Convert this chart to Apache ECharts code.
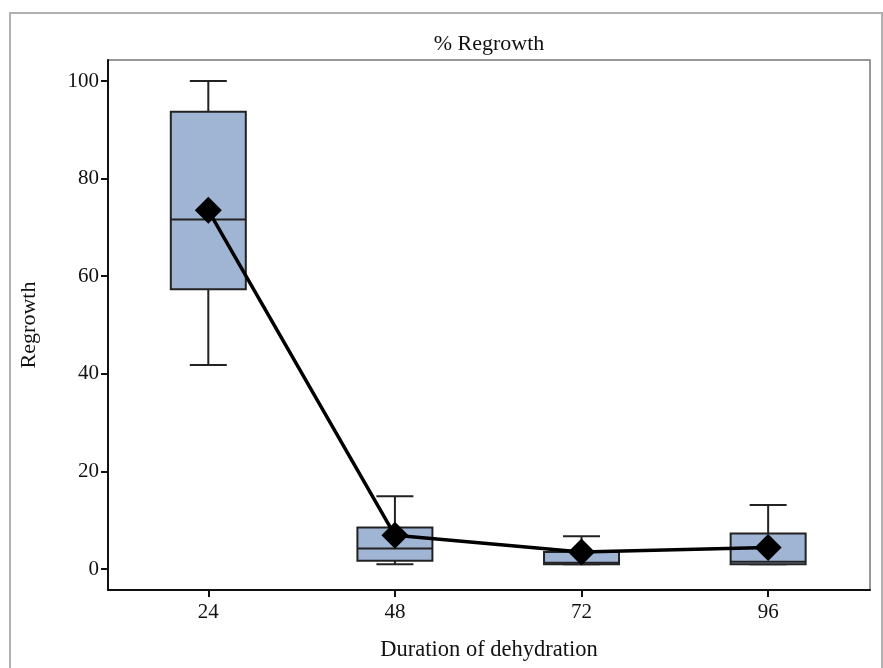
<!DOCTYPE html>
<html>
<head>
<meta charset="utf-8">
<script src="https://cdn.jsdelivr.net/npm/echarts@6/dist/echarts.min.js"></script>
<style>
  html, body { margin: 0; padding: 0; background: #fff; }
  #chart { width: 883px; height: 668px; }
</style>
</head>
<body>
<div id="chart"></div>
<script>
// durations (hours) on the x axis
const durations = [24, 48, 72, 96]
// box stats: min, q1, median, q3, max
const whiskerLow = [41.8, 1.0, 1.0, 1.0]
const q1 = [57.3, 1.7, 1.0, 1.0]
const median = [71.6, 4.2, 1.3, 1.5]
const q3 = [93.7, 8.5, 3.5, 7.3]
const whiskerHigh = [100, 14.9, 6.7, 13.1]
// mean values (diamonds joined by the line)
const means = [73.5, 6.9, 3.5, 4.4]
const yTicks = [0, 20, 40, 60, 80, 100]

const boxData = durations.map((d, i) => [d, whiskerLow[i], q1[i], median[i], q3[i], whiskerHigh[i]])
const meanData = durations.map((d, i) => [d, means[i]])

const font = 'Liberation Serif, Times New Roman, serif'
const chart = echarts.init(document.getElementById('chart'))

function renderBox (params, api) {
  const x = api.value(0)
  const pMin = api.coord([x, api.value(1)])
  const pQ1 = api.coord([x, api.value(2)])
  const pMed = api.coord([x, api.value(3)])
  const pQ3 = api.coord([x, api.value(4)])
  const pMax = api.coord([x, api.value(5)])
  const cx = pMed[0]
  const halfBox = 37.5
  const halfCap = 18.5
  const line = { stroke: '#222', lineWidth: 2 }
  return {
    type: 'group',
    children: [
      { type: 'line', shape: { x1: cx, y1: pQ3[1], x2: cx, y2: pMax[1] }, style: line },
      { type: 'line', shape: { x1: cx, y1: pQ1[1], x2: cx, y2: pMin[1] }, style: line },
      { type: 'line', shape: { x1: cx - halfCap, y1: pMax[1], x2: cx + halfCap, y2: pMax[1] }, style: line },
      { type: 'line', shape: { x1: cx - halfCap, y1: pMin[1], x2: cx + halfCap, y2: pMin[1] }, style: line },
      {
        type: 'rect',
        shape: { x: cx - halfBox, y: pQ3[1], width: halfBox * 2, height: pQ1[1] - pQ3[1] },
        style: { fill: '#a0b4d4', stroke: '#222', lineWidth: 2 }
      },
      { type: 'line', shape: { x1: cx - halfBox, y1: pMed[1], x2: cx + halfBox, y2: pMed[1] }, style: line }
    ]
  }
}

const option = {
  backgroundColor: '#fff',
  animation: false,
  title: {
    text: '% Regrowth',
    left: 484,
    textAlign: 'center',
    top: 28,
    textStyle: { fontFamily: font, fontSize: 22, fontWeight: 'normal', color: '#111' }
  },
  graphic: [{
    type: 'rect',
    shape: { x: 10, y: 13, width: 872, height: 700 },
    style: { fill: 'none', stroke: '#b0b0b0', lineWidth: 2 },
    silent: true
  }],
  grid: {
    left: 108,
    right: 13,
    top: 60,
    bottom: 78,
    show: true,
    borderColor: '#777',
    borderWidth: 1.5
  },
  xAxis: {
    type: 'value',
    min: 11.1,
    max: 109.1,
    name: 'Duration of dehydration',
    nameLocation: 'middle',
    nameGap: 49,
    nameTextStyle: { fontFamily: font, fontSize: 22.5, color: '#111' },
    axisLine: { onZero: false, lineStyle: { color: '#111', width: 2 } },
    axisTick: { customValues: durations, length: 7, lineStyle: { color: '#111', width: 2 } },
    axisLabel: { customValues: durations, margin: 12, fontFamily: font, fontSize: 21, color: '#111' },
    splitLine: { show: false }
  },
  yAxis: {
    type: 'value',
    min: -4.3,
    max: 104.3,
    name: 'Regrowth',
    nameLocation: 'middle',
    nameGap: 68,
    nameTextStyle: { fontFamily: font, fontSize: 22, color: '#111' },
    axisLine: { show: true, onZero: false, lineStyle: { color: '#111', width: 2 } },
    axisTick: { show: true, customValues: yTicks, length: 7, lineStyle: { color: '#111', width: 2 } },
    axisLabel: { customValues: yTicks, margin: 9, fontFamily: font, fontSize: 21, color: '#111' },
    splitLine: { show: false }
  },
  series: [
    {
      type: 'custom',
      renderItem: renderBox,
      data: boxData,
      encode: { x: 0, y: [1, 2, 3, 4, 5] },
      z: 2
    },
    {
      type: 'line',
      data: meanData,
      symbol: 'diamond',
      symbolSize: 27,
      itemStyle: { color: '#000' },
      lineStyle: { color: '#000', width: 3.5 },
      z: 5
    }
  ]
}

chart.setOption(option)
</script>
</body>
</html>
